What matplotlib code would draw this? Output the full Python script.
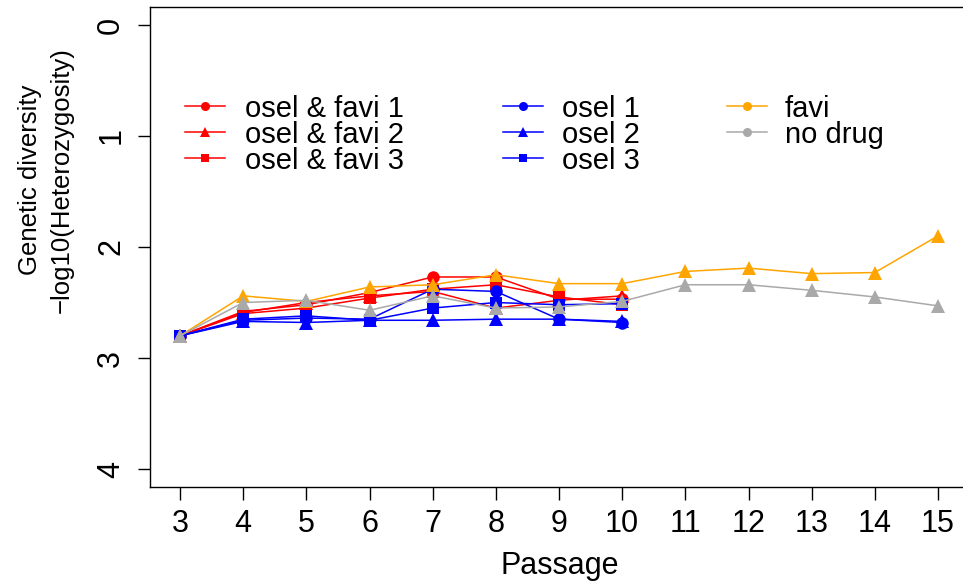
import matplotlib
matplotlib.use("Agg")
import matplotlib.pyplot as plt
from matplotlib.lines import Line2D

plt.rcParams['font.family'] = ['Liberation Sans', 'DejaVu Sans']

passage_short = [3, 4, 5, 6, 7, 8, 9, 10]
passage_long = [3, 4, 5, 6, 7, 8, 9, 10, 11, 12, 13, 14, 15]

osel_favi_1 = [2.80, 2.58, 2.52, 2.41, 2.27, 2.27, 2.47, 2.47]
osel_favi_2 = [2.80, 2.59, 2.50, 2.44, 2.40, 2.55, 2.48, 2.44]
osel_favi_3 = [2.80, 2.60, 2.55, 2.46, 2.38, 2.34, 2.45, 2.52]
osel_1 = [2.80, 2.66, 2.64, 2.65, 2.38, 2.40, 2.65, 2.68]
osel_2 = [2.80, 2.67, 2.68, 2.66, 2.66, 2.65, 2.65, 2.67]
osel_3 = [2.80, 2.65, 2.62, 2.66, 2.55, 2.50, 2.52, 2.51]
favi = [2.80, 2.44, 2.49, 2.36, 2.34, 2.25, 2.33, 2.33, 2.22, 2.19, 2.24, 2.23, 1.90]
no_drug = [2.80, 2.50, 2.48, 2.57, 2.44, 2.55, 2.54, 2.49, 2.34, 2.34, 2.39, 2.45, 2.53]

labels = ["osel & favi 1", "osel & favi 2", "osel & favi 3",
          "osel 1", "osel 2", "osel 3", "favi", "no drug"]
x_ticks = list(range(3, 16))
y_ticks = [0, 1, 2, 3, 4]

RED, BLUE, ORANGE, GRAY = "#FF0000", "#0000FF", "#FFA500", "#A9A9A9"

W, H = 963, 584
fig = plt.figure(figsize=(W / 100, H / 100), dpi=100)
ax = fig.add_axes([0.1555, 0.1664, 1.0055 - 0.1555, 0.9877 - 0.1664])

lw = 1.1
msize = {'o': 9, '^': 9.5, 's': 8}
series = [
    (passage_short, osel_favi_1, RED, 'o'),
    (passage_short, osel_favi_2, RED, '^'),
    (passage_short, osel_favi_3, RED, 's'),
    (passage_short, osel_1, BLUE, 'o'),
    (passage_short, osel_2, BLUE, '^'),
    (passage_short, osel_3, BLUE, 's'),
    (passage_long, favi, ORANGE, '^'),
    (passage_long, no_drug, GRAY, '^'),
]
for (xs, ys, c, m) in series:
    ax.plot(xs, ys, color=c, lw=lw, marker=m, markersize=msize[m],
            markeredgewidth=0, clip_on=False)

ax.set_xlim(2.52, 15.48)
ax.set_ylim(4.16, -0.16)
ax.set_xticks(x_ticks)
ax.set_yticks(y_ticks)
ax.set_yticklabels([str(v) for v in y_ticks], rotation=90, va='center')
ax.tick_params(axis='both', direction='out', length=9, width=1, labelsize=22)
ax.tick_params(axis='x', pad=7)
ax.tick_params(axis='y', pad=8)
for s in ax.spines.values():
    s.set_linewidth(1)

fig.text(560 / W, 1 - 566 / H, "Passage", fontsize=22, ha='center', va='center')
fig.text(30 / W, 1 - 180 / H, "Genetic diversity", fontsize=18.5,
         rotation=90, ha='center', va='center')
fig.text(62 / W, 1 - 180 / H, "\u2212log10(Heterozygosity)", fontsize=18.5,
         rotation=90, ha='center', va='center')

# legend drawn manually (three columns)
row_y = [106, 132, 158]
cols = [
    (185, 225, 245, [(RED, 'o'), (RED, '^'), (RED, 's')], labels[0:3]),
    (503, 543, 562, [(BLUE, 'o'), (BLUE, '^'), (BLUE, 's')], labels[3:6]),
    (727, 767, 785, [(ORANGE, 'o'), (GRAY, 'o')], labels[6:8]),
]
leg_ms = {'o': 6.5, '^': 7, 's': 6}
for x0, x1, xt, styles, labs in cols:
    for (c, m), lab, yp in zip(styles, labs, row_y):
        yf = 1 - yp / H
        fig.add_artist(Line2D([x0 / W, x1 / W], [yf, yf], transform=fig.transFigure,
                              color=c, lw=lw))
        fig.add_artist(Line2D([(x0 + x1) / 2 / W], [yf], transform=fig.transFigure,
                              color=c, marker=m, markersize=leg_ms[m],
                              markeredgewidth=0, lw=0))
        fig.text(xt / W, yf, lab, fontsize=21, ha='left', va='center_baseline')

fig.savefig("out.png", dpi=100)
